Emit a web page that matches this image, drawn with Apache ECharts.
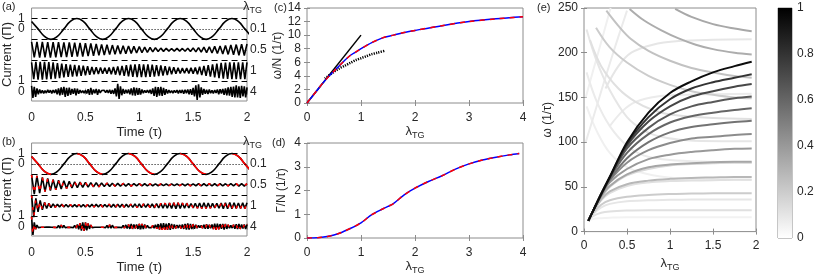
<!DOCTYPE html>
<html><head><meta charset="utf-8">
<script src="https://cdn.jsdelivr.net/npm/echarts@6/dist/echarts.min.js"></script>
<style>html,body{margin:0;padding:0;background:#fff}#c{width:830px;height:277px}</style>
</head><body><div id="c"></div><script>
// ---------- Panel (a)/(b): current traces ----------
const traceLambdaLabels = ['0.1', '0.5', '1', '4'];
const traceOffset = [6, 4, 2, 0];
const dashLevels = [7, 5, 3, 1];
const leftTicksOne = [7, 1];
const leftTicksZero = [6, 0];
const dtSine = 0.06, dt05 = 0.025, dt1 = 0.02, dt4 = 0.0125;
const sineI = [0.71,0,-0.71,-1,-0.71,0,0.71,1, 0.71,0,-0.71,-1,-0.71,0,0.71,1, 0.71,0,-0.71,-1,-0.71,0,0.71,1, 0.71,0,-0.71,-1,-0.71,0,0.71,1, 0.71,0,-0.71];
const sineRedI = [0.71,0,-0.71,-1,null,null,null,1, 0.71,0,-0.71,-1,null,null,null,1, 0.71,0,-0.71,-1,null,null,null,1, 0.71,0,-0.71,-1,null,null,null,1, 0.71,0,-0.71];
const aLam05 = [0.75,-0.72,0.76,-0.74,0.75,-0.73,0.74,-0.75,0.73,-0.72,
 0.74,-0.71,0.72,-0.7,0.7,-0.68,0.69,-0.66,0.66,-0.64,
 0.63,-0.6,0.6,-0.57,0.56,-0.53,0.52,-0.5,0.48,-0.46,
 0.45,-0.43,0.42,-0.4,0.38,-0.37,0.36,-0.34,0.33,-0.31,
 0.3,-0.28,0.26,-0.24,0.22,-0.2,0.19,-0.17,0.16,-0.15,
 0.14,-0.13,0.12,-0.12,0.13,-0.12,0.13,-0.14,0.15,-0.16,
 0.18,-0.2,0.21,-0.23,0.25,-0.27,0.29,-0.31,0.33,-0.35,
 0.37,-0.4,0.42,-0.44,0.46,-0.48,0.5,-0.52,0.53,-0.55, 0.55];
const aLam1 = [0.8,-0.82,0.84,-0.85,0.85, -0.85,0.84,-0.83,0.82,-0.81, 0.8,-0.77,0.73,-0.7,0.67,
 -0.65,0.62,-0.6,0.58,-0.56, 0.55,-0.53,0.51,-0.49,0.47, -0.45,0.42,-0.39,0.36,-0.34,
 0.32,-0.31,0.3,-0.29,0.28, -0.28,0.3,-0.33,0.35,-0.38, 0.4,-0.43,0.46,-0.49,0.52,
 -0.55,0.57,-0.58,0.6,-0.61, 0.62,-0.62,0.61,-0.61,0.6, -0.6,0.58,-0.56,0.54,-0.52,
 0.5,-0.47,0.44,-0.41,0.38, -0.35,0.33,-0.3,0.28,-0.26, 0.25,-0.25,0.26,-0.26,0.27,
 -0.28,0.31,-0.35,0.38,-0.42, 0.45,-0.49,0.53,-0.57,0.61, -0.65,0.68,-0.71,0.74,-0.76,
 0.78,-0.79,0.79,-0.8,0.8, -0.8,0.8,-0.8,0.8,-0.8, 0.8];
const aLam4 = [0.55,-0.6,0.45,-0.5,0.3,-0.25,0.2,-0.15, 0.12,-0.18,0.1,-0.14,0.16,-0.1,0.13,-0.17,
 0.15,-0.12,0.2,-0.25,0.3,-0.35,0.4,-0.3, 0.45,-0.5,0.35,-0.42,0.38,-0.3,0.25,-0.2,
 0.3,-0.35,0.28,-0.2,0.15,-0.12,0.1,-0.14, 0.12,-0.18,0.22,-0.3,0.35,-0.28,0.2,-0.15,
 0.25,-0.3,0.2,-0.12,0.1,-0.08,0.12,-0.1, 0.14,-0.12,0.18,-0.2,0.15,-0.22,0.3,-0.45,
 0.75,-0.7,0.5,-0.35,0.25,-0.2,0.18,-0.15, 0.2,-0.25,0.3,-0.35,0.4,-0.38,0.35,-0.3,
 0.32,-0.28,0.2,-0.15,0.12,-0.1,0.15,-0.12, 0.18,-0.22,0.3,-0.4,0.45,-0.5,0.42,-0.38,
 0.45,-0.4,0.35,-0.3,0.22,-0.18,0.15,-0.12, 0.1,-0.14,0.12,-0.1,0.15,-0.18,0.14,-0.12,
 0.16,-0.2,0.18,-0.15,0.2,-0.25,0.22,-0.3, 0.35,-0.45,0.6,-0.8,0.7,-0.55,0.4,-0.3,
 0.25,-0.2,0.18,-0.22,0.2,-0.15,0.12,-0.18, 0.15,-0.12,0.2,-0.25,0.22,-0.18,0.25,-0.3,
 0.3,-0.35,0.4,-0.38,0.45,-0.5,0.48,-0.55, 0.6,-0.55,0.5,-0.6,0.55,-0.45,0.5,-0.55, 0.4];
const bLam05 = [0.95,-0.9,0.85,-0.8,0.72,-0.65,0.6,-0.55,0.5,-0.47,
 0.44,-0.41,0.38,-0.35,0.33,-0.31,0.29,-0.27,0.26,-0.25,
 0.23,-0.22,0.21,-0.2,0.19,-0.18,0.17,-0.17,0.16,-0.15,
 0.15,-0.14,0.14,-0.13,0.13,-0.12,0.12,-0.12,0.11,-0.11,
 0.11,-0.1,0.1,-0.1,0.09,-0.09,0.09,-0.09,0.08,-0.08,
 0.08,-0.08,0.08,-0.08,0.08,-0.08,0.09,-0.09,0.09,-0.09,
 0.09,-0.09,0.1,-0.1,0.1,-0.1,0.1,-0.1,0.1,-0.1,
 0.1,-0.1,0.1,-0.11,0.11,-0.11,0.11,-0.12,0.12,-0.12, 0.12];
const bLam1 = [1.0,-1.1,0.7,-0.6,0.5, -0.4,0.32,-0.27,0.22,-0.19, 0.17,-0.15,0.14,-0.13,0.13,
 -0.12,0.12,-0.12,0.11,-0.11, 0.11,-0.11,0.12,-0.12,0.12, -0.12,0.12,-0.13,0.13,-0.13,
 0.13,-0.12,0.12,-0.12,0.12, -0.13,0.13,-0.14,0.14,-0.15, 0.15,-0.15,0.14,-0.14,0.13,
 -0.14,0.15,-0.16,0.17,-0.18, 0.18,-0.18,0.17,-0.16,0.16, -0.17,0.18,-0.2,0.21,-0.22,
 0.23,-0.24,0.24,-0.25,0.25, -0.26,0.27,-0.28,0.28,-0.27, 0.26,-0.25,0.24,-0.22,0.21,
 -0.22,0.23,-0.25,0.26,-0.27, 0.28,-0.27,0.26,-0.24,0.22, -0.21,0.22,-0.24,0.26,-0.28,
 0.29,-0.3,0.3,-0.29,0.28, -0.27,0.26,-0.27,0.28,-0.29, 0.29];
const bLam4 = [0.95,-0.8,0.4,-0.25,0.15,-0.1,0.08,-0.06, 0.05,-0.06,0.05,-0.05,0.06,-0.05,0.05,-0.06,
 0.06,-0.07,0.08,-0.1,0.12,-0.14,0.15,-0.13, 0.12,-0.1,0.08,-0.07,0.06,-0.07,0.08,-0.1,
 0.12,-0.15,0.2,-0.25,0.32,-0.38,0.4,-0.42, 0.4,-0.35,0.3,-0.22,0.15,-0.1,0.08,-0.06,
 0.05,-0.06,0.07,-0.06,0.05,-0.06,0.08,-0.1, 0.12,-0.14,0.16,-0.15,0.13,-0.1,0.08,-0.07,
 0.06,-0.07,0.08,-0.1,0.12,-0.14,0.16,-0.18, 0.2,-0.22,0.24,-0.22,0.2,-0.18,0.2,-0.22,
 0.25,-0.27,0.26,-0.24,0.2,-0.16,0.12,-0.1, 0.09,-0.1,0.12,-0.15,0.18,-0.2,0.24,-0.28,
 0.3,-0.32,0.34,-0.3,0.28,-0.3,0.32,-0.3, 0.26,-0.22,0.2,-0.18,0.15,-0.14,0.16,-0.18,
 0.2,-0.22,0.25,-0.28,0.3,-0.28,0.26,-0.24, 0.22,-0.2,0.18,-0.15,0.12,-0.1,0.12,-0.15,
 0.18,-0.2,0.22,-0.2,0.18,-0.16,0.2,-0.24, 0.27,-0.3,0.28,-0.26,0.24,-0.22,0.25,-0.28,
 0.26,-0.22,0.18,-0.15,0.12,-0.14,0.17,-0.2, 0.22,-0.24,0.25,-0.22,0.2,-0.18,0.2,-0.22, 0.2];

// ---------- Panel (c): omega/N ----------
const cLinear = [[0,0],[1,10]];
const cDotted = [[0.33,3.6],[0.4,4.0],[0.5,4.6],[0.6,5.1],[0.7,5.5],[0.8,5.9],[0.9,6.3],[1.0,6.6],[1.1,6.9],[1.2,7.2],[1.3,7.4],[1.44,7.7]];
const cOmega = [[0,0],[0.1,1],[0.2,2],[0.3,3],[0.4,3.9],[0.5,4.7],[0.6,5.5],[0.7,6.3],[0.8,7.0],[0.9,7.5],[1.0,8.0],[1.2,8.9],[1.4,9.6],[1.6,10.0],[1.8,10.4],[2.0,10.7],[2.5,11.4],[3.0,12.0],[3.5,12.4],[4.0,12.7]];
// ---------- Panel (d): Gamma/N ----------
const dGamma = [[0,0],[0.2,0.01],[0.4,0.07],[0.6,0.2],[0.8,0.4],[1.0,0.64],[1.2,0.98],[1.4,1.22],[1.5,1.33],[1.6,1.45],[1.8,1.82],[2.0,2.1],[2.25,2.38],[2.5,2.62],[2.75,2.9],[3.0,3.12],[3.25,3.28],[3.5,3.4],[3.75,3.5],[3.93,3.56]];

// ---------- Panel (e): spectrum branches ----------
const lamE = [0.05,0.1,0.2,0.3,0.5,0.75,1,1.25,1.5,1.75,1.95];
const lowBranchOmega = [
 [12,14,15,15.5,16,16,16,16,16,16,16],
 [12,17,21,22.5,23.5,24,24,24,24,24,24],
 [12,19,27,31,34,35,35.5,36,36,36,36],
 [12,20,30,35,39,41,42,42.5,43,43,43],
 [12,21,35,43,51,55,56.5,57,57.5,58,58],
 [12,21,36,45,53,57,59,60,60.5,61,61],
 [12,22,38,50,63,70,74,75.5,76.5,77,77],
 [12,22,39,51,64,72,75,76.5,77.5,78,78],
 [12,22,40,55,70,81,86,89,91,92.5,93],
 [12,22,41,57,77,91,99,104,106,108,109],
 [12,22,41,58,82,100,111,117,120,122.5,124],
 [12,22,42,60,88,109,122,129,133,136,138],
 [12,22,42,60,93,116,131,140,145,149,151],
 [12,22,42,61,96,123,140,151,157,162,165],
 [12,22,42,61,98,128,148,160,167,172,176],
 [12,22,42,61,100,133,155,168,178,185,190]
];
const lowBranchGray = [0.05,0.12,0.1,0.2,0.12,0.28,0.15,0.35,0.4,0.45,0.55,0.6,0.65,0.72,0.8,0.95];
const upperBranches = [
 [[1.06,249],[1.25,240],[1.5,232],[1.75,227],[1.95,224]],
 [[0.53,249],[0.7,236],[0.9,225],[1.1,216],[1.3,209],[1.5,204],[1.75,200],[1.95,198]],
 [[0.26,247],[0.4,230],[0.55,215],[0.75,202],[1.0,191],[1.25,183],[1.5,178],[1.75,174],[1.95,172]],
 [[0.14,228],[0.3,206],[0.5,189],[0.75,174],[1.0,164],[1.25,157],[1.5,153],[1.75,150],[1.95,149]],
 [[0.07,214],[0.2,185],[0.4,160],[0.6,145],[0.8,136],[1.0,131],[1.5,127],[1.95,126]],
 [[0.03,226],[0.15,190],[0.3,158],[0.5,128],[0.7,113],[0.9,106],[1.2,102],[1.6,101],[1.95,101]],
 [[0.03,178],[0.15,145],[0.3,118],[0.5,96],[0.7,85],[1.0,80],[1.5,78],[1.95,77]],
 [[0.03,140],[0.15,112],[0.3,88],[0.5,72],[0.8,63],[1.2,59],[1.95,58]],
 [[0.02,100],[0.1,125],[0.2,157],[0.3,188],[0.4,218],[0.5,247]],
 [[0.02,150],[0.1,178],[0.2,212],[0.28,240],[0.31,250]],
 [[0.25,160],[0.4,185],[0.55,200],[0.8,209],[1.1,213],[1.5,214.5],[1.95,215]],
 [[0.3,118],[0.45,135],[0.6,145],[0.85,151],[1.2,153],[1.95,154]]
];
const upperBranchGray = [0.34,0.32,0.24,0.2,0.12,0.1,0.08,0.06,0.08,0.06,0.1,0.08];
const colorbarTicks = [0, 1, 0.2];

// ---------- styling ----------
const FONT = '"Liberation Sans", Arial, Helvetica, sans-serif';
const TXT = '#262626', AXC = '#8c8c8c';
const lab = (extra) => Object.assign({color: TXT, fontSize: 12, fontFamily: FONT}, extra || {});
const rich = {l: {fontSize: 13, fontFamily: FONT, color: TXT}, s: {fontSize: 9, fontFamily: FONT, color: TXT, padding: [9, 0, 0, 0]}};
const grids = [
 {left: 30, top: 8, width: 217, height: 93},
 {left: 30, top: 143, width: 217, height: 93},
 {left: 307, top: 8, width: 216, height: 95},
 {left: 307, top: 143, width: 216, height: 95},
 {left: 584, top: 8, width: 172, height: 230},
 {left: 778, top: 8, width: 14, height: 230}
].map(g => Object.assign({show: true, borderColor: AXC, borderWidth: 1, containLabel: false}, g));

const xAxes = [], yAxes = [];
function addX(o) { xAxes.push(Object.assign({type: 'value', axisLine: {show: false}, splitLine: {show: false},
  axisTick: {inside: true, length: 3, lineStyle: {color: AXC}}}, o)); return xAxes.length - 1; }
function addY(o) { yAxes.push(Object.assign({type: 'value', axisLine: {show: false}, splitLine: {show: false},
  axisTick: {inside: true, length: 3, lineStyle: {color: AXC}}}, o)); return yAxes.length - 1; }

const series = [];
function line(xi, yi, data, style, extra) {
  series.push(Object.assign({type: 'line', xAxisIndex: xi, yAxisIndex: yi, data: data, symbol: 'none',
    animation: false, silent: true, lineStyle: style, clip: true}, extra || {}));
}
const toPts = (arr, dt, off) => arr.map((v, i) => [i * dt, v === null ? '-' : v + off]);

// panels a and b
['a', 'b'].forEach((p, gi) => {
  const xb = addX({gridIndex: gi, min: 0, max: 2, interval: 0.5, position: 'bottom',
    axisLabel: lab({margin: 11}), name: 'Time (τ)', nameLocation: 'middle', nameGap: 25,
    nameTextStyle: lab({fontSize: 13})});
  addX({gridIndex: gi, min: 0, max: 2, interval: 0.5, position: 'top', axisLabel: {show: false}});
  const yl = addY({gridIndex: gi, min: -0.9, max: 8, position: 'left', offset: 0,
    axisTick: {inside: true, length: 3, lineStyle: {color: AXC}, customValues: leftTicksOne.slice()},
    axisLabel: lab({margin: 7, showMinLabel: true, showMaxLabel: true, customValues: leftTicksOne.slice(), formatter: () => '1'}),
    name: 'Current (Π)', nameLocation: 'middle', nameGap: 14, nameTextStyle: lab({fontSize: 13})});
  addY({gridIndex: gi, min: -0.9, max: 8, position: 'left', offset: 0,
    axisTick: {inside: true, length: 3, lineStyle: {color: AXC}, customValues: leftTicksZero.slice()},
    axisLabel: lab({margin: 7, showMinLabel: true, showMaxLabel: true, customValues: leftTicksZero.slice(), formatter: () => '0'})});
  addY({gridIndex: gi, min: -0.9, max: 8, position: 'right',
    axisTick: {inside: true, length: 3, lineStyle: {color: AXC}, customValues: traceOffset.slice()},
    axisLabel: lab({margin: 3, showMinLabel: true, showMaxLabel: true,
      customValues: traceOffset.slice(),
      formatter: v => traceLambdaLabels[traceOffset.indexOf(v)]})});
  // reference lines
  series.push({type: 'line', xAxisIndex: xb, yAxisIndex: yl, data: [], symbol: 'none', animation: false,
    markLine: {silent: true, symbol: 'none', animation: false, label: {show: false},
      lineStyle: {color: '#000', width: 1, type: [6, 4]},
      data: dashLevels.map(v => ({yAxis: v})).concat([{yAxis: traceOffset[0], lineStyle: {type: [1, 2], color: '#000', width: 1}}])}});
  const blk = {color: '#000', width: 1.6};
  if (p === 'a') {
    line(xb, yl, toPts(sineI, dtSine, traceOffset[0]), blk, {smooth: 0.5});
    line(xb, yl, toPts(aLam05, dt05, traceOffset[1]), blk);
    line(xb, yl, toPts(aLam1, dt1, traceOffset[2]), blk);
    line(xb, yl, toPts(aLam4, dt4, traceOffset[3]), blk);
  } else {
    line(xb, yl, toPts(sineI, dtSine, traceOffset[0]), blk, {smooth: 0.5});
    line(xb, yl, toPts(sineRedI, dtSine, traceOffset[0]), {color: '#f00', width: 1.6}, {smooth: 0.5, connectNulls: false});
    const red = {color: '#f00', width: 1.6, type: [3, 9]};
    line(xb, yl, toPts(bLam05, dt05, traceOffset[1]), blk);
    line(xb, yl, toPts(bLam05, dt05, traceOffset[1]), red);
    line(xb, yl, toPts(bLam1, dt1, traceOffset[2]), blk);
    line(xb, yl, toPts(bLam1, dt1, traceOffset[2]), red);
    line(xb, yl, toPts(bLam4, dt4, traceOffset[3]), blk);
    line(xb, yl, toPts(bLam4, dt4, traceOffset[3]), red);
  }
});

// panels c and d
const lamName = {name: '{l|λ}{s|TG}', nameLocation: 'middle', nameGap: 18, nameTextStyle: {rich: rich}};
[2, 3].forEach(gi => {
  const xb = addX(Object.assign({gridIndex: gi, min: 0, max: 4, interval: 1, position: 'bottom', axisLabel: lab({margin: 9})}, lamName));
  addX({gridIndex: gi, min: 0, max: 4, interval: 1, position: 'top', axisLabel: {show: false}});
  const isC = gi === 2;
  const yl = addY({gridIndex: gi, min: 0, max: isC ? 14 : 4, interval: isC ? 2 : 1, position: 'left',
    axisLabel: lab({margin: 6}), name: isC ? 'ω/N (1/τ)' : 'Γ/N (1/τ)', nameLocation: 'middle', nameGap: 19,
    nameTextStyle: lab({fontSize: 12})});
  addY({gridIndex: gi, min: 0, max: isC ? 14 : 4, interval: isC ? 2 : 1, position: 'right', axisLabel: {show: false}});
  if (isC) {
    line(xb, yl, cLinear, {color: '#000', width: 1.5});
    line(xb, yl, cDotted, {color: '#000', width: 2.5, type: [1.2, 1.2]}, {smooth: 0.3});
    line(xb, yl, cOmega, {color: '#0000ff', width: 1.5}, {smooth: 0.3});
    line(xb, yl, cOmega, {color: '#ff0000', width: 1.5, type: [5, 5]}, {smooth: 0.3});
  } else {
    line(xb, yl, dGamma, {color: '#0000ff', width: 1.5}, {smooth: 0.3});
    line(xb, yl, dGamma, {color: '#ff0000', width: 1.5, type: [5, 5]}, {smooth: 0.3});
  }
});

// panel e
const grayCol = g => { const c = Math.round(255 * (1 - g)); return 'rgb(' + c + ',' + c + ',' + c + ')'; };
const xe = addX(Object.assign({gridIndex: 4, min: 0, max: 2, interval: 0.5, position: 'bottom', axisLabel: lab({margin: 8})}, lamName, {nameGap: 15}));
addX({gridIndex: 4, min: 0, max: 2, interval: 0.5, position: 'top', axisLabel: {show: false}});
const ye = addY({gridIndex: 4, min: 0, max: 250, interval: 50, position: 'left', axisLabel: lab({margin: 6}),
  name: 'ω (1/τ)', nameLocation: 'middle', nameGap: 26, nameTextStyle: lab({fontSize: 12})});
addY({gridIndex: 4, min: 0, max: 250, interval: 50, position: 'right', axisLabel: {show: false}});
const eCurves = [];
lowBranchOmega.forEach((row, k) => eCurves.push({g: lowBranchGray[k], data: lamE.map((l, j) => [l, row[j]])}));
upperBranches.forEach((pts, k) => eCurves.push({g: upperBranchGray[k], data: pts}));
eCurves.sort((a, b) => a.g - b.g).forEach(cv => line(xe, ye, cv.data, {color: grayCol(cv.g), width: 2}, {smooth: 0.35}));

// colorbar
const xcb = xAxes.push({type: 'category', gridIndex: 5, data: ['c'], show: false}) - 1;
const ycb = addY({gridIndex: 5, min: colorbarTicks[0], max: colorbarTicks[1], interval: colorbarTicks[2], position: 'right',
  axisLabel: lab({margin: 5})});
series.push({type: 'bar', xAxisIndex: xcb, yAxisIndex: ycb, data: [1], barWidth: '100%', animation: false, silent: true,
  itemStyle: {color: {type: 'linear', x: 0, y: 0, x2: 0, y2: 1, colorStops: [{offset: 0, color: '#000'}, {offset: 1, color: '#fff'}]}}});

const titles = [
 {text: '(a)', left: 2, top: 1}, {text: '(b)', left: 2, top: 136},
 {text: '(c)', left: 274, top: 2}, {text: '(d)', left: 272, top: 137},
 {text: '(e)', left: 537, top: 2},
 {text: '{l|λ}{s|TG}', left: 243, top: -3}, {text: '{l|λ}{s|TG}', left: 243, top: 132}
].map(t => Object.assign({padding: 0, textStyle: {fontSize: 11, fontWeight: 'normal', fontFamily: FONT, color: TXT, rich: rich}}, t));

const chart = echarts.init(document.getElementById('c'), null, {renderer: 'canvas'});
chart.setOption({animation: false, backgroundColor: '#fff', title: titles, grid: grids, xAxis: xAxes, yAxis: yAxes, series: series});
</script></body></html>
